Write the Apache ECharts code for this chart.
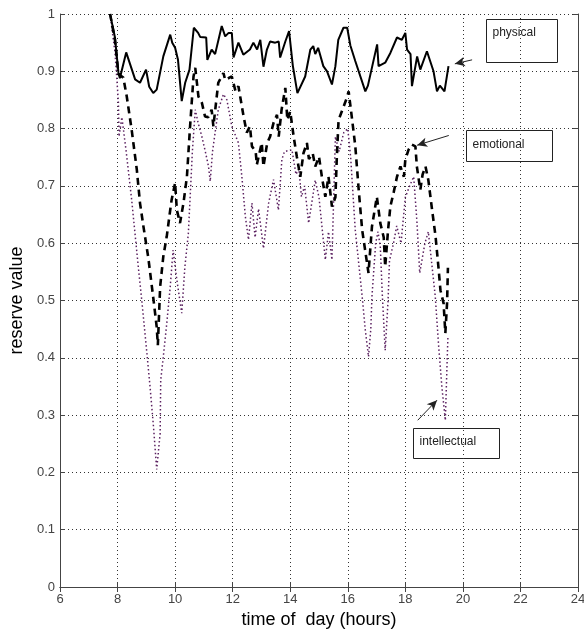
<!DOCTYPE html>
<html>
<head>
<meta charset="utf-8">
<script src="https://cdn.jsdelivr.net/npm/echarts@6/dist/echarts.min.js"></script>
<style>
  html, body { margin: 0; padding: 0; background: #fff; }
  #chart { width: 584px; height: 630px; }
</style>
</head>
<body>
<div id="chart"></div>
<script>
// tick labels
const xTicks = [6, 8, 10, 12, 14, 16, 18, 20, 22, 24];
const yTicks = [0, 0.1, 0.2, 0.3, 0.4, 0.5, 0.6, 0.7, 0.8, 0.9, 1];

// physical reserve (solid)
const physicalHours = [7.74, 7.91, 8.03, 8.08, 8.30, 8.61, 8.78, 8.99, 9.10, 9.24, 9.36, 9.59, 9.83, 9.90, 10.0, 10.1, 10.23, 10.35, 10.5, 10.65, 10.8, 10.87, 11.08, 11.12, 11.27, 11.39, 11.62, 11.74, 11.86, 11.97, 12.03, 12.2, 12.37, 12.6, 12.72, 12.85, 12.96, 13.07, 13.19, 13.3, 13.48, 13.6, 13.65, 13.83, 13.96, 14.09, 14.25, 14.52, 14.70, 14.80, 14.87, 14.97, 15.15, 15.28, 15.45, 15.57, 15.67, 15.85, 15.98, 16.09, 16.26, 16.61, 16.70, 17.02, 17.07, 17.30, 17.48, 17.71, 17.88, 18.0, 18.06, 18.18, 18.23, 18.41, 18.52, 18.75, 18.98, 19.10, 19.2, 19.36, 19.5];
const physicalValues = [1.0, 0.959, 0.898, 0.888, 0.933, 0.886, 0.880, 0.903, 0.873, 0.862, 0.868, 0.926, 0.964, 0.950, 0.941, 0.920, 0.848, 0.880, 0.903, 0.976, 0.967, 0.960, 0.959, 0.920, 0.938, 0.930, 0.979, 0.961, 0.967, 0.967, 0.924, 0.950, 0.929, 0.938, 0.950, 0.938, 0.955, 0.908, 0.938, 0.952, 0.950, 0.952, 0.924, 0.952, 0.970, 0.910, 0.862, 0.891, 0.938, 0.944, 0.930, 0.941, 0.909, 0.900, 0.877, 0.909, 0.955, 0.976, 0.976, 0.945, 0.918, 0.865, 0.875, 0.947, 0.909, 0.915, 0.932, 0.959, 0.955, 0.967, 0.938, 0.930, 0.874, 0.926, 0.903, 0.935, 0.900, 0.865, 0.875, 0.865, 0.909];

// emotional reserve (dashed)
const emotionalHours = [7.74, 7.91, 8.03, 8.2, 8.32, 8.49, 8.67, 8.78, 8.9, 9.07, 9.25, 9.36, 9.40, 9.48, 9.59, 9.71, 9.83, 9.88, 10.0, 10.06, 10.17, 10.29, 10.41, 10.52, 10.64, 10.70, 10.81, 10.93, 11.04, 11.15, 11.27, 11.33, 11.5, 11.68, 11.74, 11.97, 12.1, 12.2, 12.38, 12.49, 12.6, 12.67, 12.8, 12.84, 13.01, 13.07, 13.2, 13.3, 13.42, 13.54, 13.6, 13.7, 13.83, 13.9, 14.0, 14.12, 14.23, 14.35, 14.46, 14.58, 14.65, 14.78, 14.87, 15.0, 15.1, 15.22, 15.33, 15.45, 15.57, 15.62, 15.68, 15.86, 15.97, 16.03, 16.15, 16.26, 16.38, 16.5, 16.72, 16.84, 17.01, 17.13, 17.25, 17.3, 17.4, 17.48, 17.6, 17.71, 17.83, 17.95, 18.0, 18.11, 18.23, 18.35, 18.4, 18.52, 18.6, 18.7, 18.8, 18.93, 19.05, 19.16, 19.22, 19.33, 19.39, 19.45, 19.48];
const emotionalValues = [1.0, 0.955, 0.895, 0.889, 0.856, 0.798, 0.728, 0.670, 0.629, 0.574, 0.501, 0.454, 0.422, 0.524, 0.577, 0.612, 0.658, 0.676, 0.705, 0.658, 0.635, 0.670, 0.716, 0.804, 0.891, 0.906, 0.856, 0.845, 0.821, 0.820, 0.833, 0.804, 0.880, 0.897, 0.885, 0.891, 0.865, 0.874, 0.821, 0.793, 0.804, 0.769, 0.760, 0.737, 0.775, 0.734, 0.775, 0.786, 0.810, 0.824, 0.786, 0.833, 0.871, 0.815, 0.830, 0.786, 0.751, 0.716, 0.757, 0.775, 0.747, 0.757, 0.734, 0.751, 0.716, 0.681, 0.716, 0.664, 0.680, 0.751, 0.815, 0.839, 0.854, 0.865, 0.816, 0.770, 0.693, 0.623, 0.548, 0.629, 0.681, 0.635, 0.610, 0.559, 0.623, 0.664, 0.690, 0.716, 0.734, 0.716, 0.746, 0.763, 0.772, 0.769, 0.734, 0.693, 0.720, 0.734, 0.710, 0.658, 0.612, 0.553, 0.518, 0.495, 0.443, 0.495, 0.557];

// intellectual reserve (dotted)
const intellectualHours = [7.74, 7.91, 7.97, 8.03, 8.05, 8.15, 8.3, 8.49, 8.72, 8.84, 9.01, 9.13, 9.25, 9.36, 9.48, 9.50, 9.59, 9.71, 9.83, 9.93, 10.06, 10.23, 10.34, 10.46, 10.6, 10.7, 10.8, 10.93, 11.05, 11.16, 11.22, 11.3, 11.5, 11.68, 11.8, 11.97, 12.2, 12.32, 12.44, 12.55, 12.67, 12.78, 12.9, 13.07, 13.25, 13.42, 13.59, 13.71, 13.8, 14.06, 14.2, 14.3, 14.39, 14.5, 14.64, 14.87, 15.0, 15.22, 15.33, 15.45, 15.57, 15.7, 15.86, 16.0, 16.1, 16.26, 16.38, 16.5, 16.61, 16.72, 16.8, 16.84, 16.97, 17.05, 17.13, 17.2, 17.3, 17.4, 17.45, 17.59, 17.7, 17.85, 18.0, 18.15, 18.29, 18.4, 18.5, 18.68, 18.8, 19.04, 19.16, 19.27, 19.39, 19.45, 19.48];
const intellectualValues = [1.0, 0.933, 0.891, 0.845, 0.786, 0.820, 0.760, 0.676, 0.559, 0.501, 0.413, 0.349, 0.279, 0.205, 0.268, 0.361, 0.402, 0.460, 0.524, 0.588, 0.536, 0.478, 0.559, 0.617, 0.760, 0.833, 0.810, 0.786, 0.760, 0.734, 0.708, 0.760, 0.833, 0.860, 0.850, 0.804, 0.775, 0.716, 0.647, 0.606, 0.670, 0.610, 0.660, 0.591, 0.670, 0.711, 0.658, 0.746, 0.760, 0.763, 0.720, 0.730, 0.681, 0.700, 0.635, 0.710, 0.680, 0.571, 0.620, 0.571, 0.786, 0.760, 0.793, 0.800, 0.750, 0.623, 0.565, 0.507, 0.448, 0.402, 0.450, 0.507, 0.600, 0.620, 0.594, 0.510, 0.413, 0.500, 0.570, 0.600, 0.630, 0.600, 0.680, 0.700, 0.716, 0.640, 0.548, 0.600, 0.620, 0.507, 0.419, 0.349, 0.291, 0.390, 0.437];

function pairs(xs, ys) {
  return xs.map((x, i) => [x, ys[i]]);
}

const chart = echarts.init(document.getElementById('chart'), null, { renderer: 'canvas' });

const tickFont = { color: '#444', fontSize: 13, fontFamily: 'Liberation Sans, Arial, sans-serif' };
const gridLine = { show: true, lineStyle: { color: '#333', type: [1, 3], width: 1 } };
const frameLine = { show: true, lineStyle: { color: '#444', width: 1 } };
const arrowLine = { color: '#222', type: 'solid', width: 1 };

chart.setOption({
  animation: false,
  backgroundColor: '#fff',
  grid: { left: 60, right: 6, top: 14, bottom: 43, containLabel: false, outerBoundsMode: 'none' },
  xAxis: [
    {
      type: 'value', min: 6, max: 24, interval: 2,
      name: 'time of  day (hours)', nameLocation: 'middle', nameGap: 24,
      nameTextStyle: { color: '#000', fontSize: 18, fontFamily: 'Liberation Sans, Arial, sans-serif' },
      axisLine: frameLine,
      axisTick: { show: true, inside: true, length: 5, lineStyle: { color: '#444' } },
      axisLabel: Object.assign({ margin: 6, formatter: v => String(v) }, tickFont),
      splitLine: gridLine
    },
    {
      type: 'value', min: 6, max: 24, interval: 2, position: 'top',
      axisLine: frameLine,
      axisTick: { show: true, inside: true, length: 5, lineStyle: { color: '#444' } },
      axisLabel: { show: false }, splitLine: { show: false }
    }
  ],
  yAxis: [
    {
      type: 'value', min: 0, max: 1, interval: 0.1,
      name: 'reserve value', nameLocation: 'middle', nameGap: 34, nameRotate: 90,
      nameTextStyle: { color: '#000', fontSize: 18, fontFamily: 'Liberation Sans, Arial, sans-serif' },
      axisLine: frameLine,
      axisTick: { show: true, inside: true, length: 5, lineStyle: { color: '#444' } },
      axisLabel: Object.assign({ margin: 5, formatter: v => String(+v.toFixed(1)) }, tickFont),
      splitLine: gridLine
    },
    {
      type: 'value', min: 0, max: 1, interval: 0.1, position: 'right',
      axisLine: frameLine,
      axisTick: { show: true, inside: true, length: 5, lineStyle: { color: '#444' } },
      axisLabel: { show: false }, splitLine: { show: false }
    }
  ],
  series: [
    {
      name: 'intellectual', type: 'line', showSymbol: false, z: 2,
      data: pairs(intellectualHours, intellectualValues),
      lineStyle: { color: '#5b2160', width: 1.5, type: [1.5, 2.5] },
      markLine: {
        silent: true, symbol: ['none', 'arrow'], symbolSize: [7, 10],
        label: { show: false }, lineStyle: arrowLine,
        data: [[{ coord: [18.43, 0.291] }, { coord: [19.1, 0.326] }]]
      }
    },
    {
      name: 'emotional', type: 'line', showSymbol: false, z: 3,
      data: pairs(emotionalHours, emotionalValues),
      lineStyle: { color: '#000', width: 2.6, type: [7, 5] },
      markLine: {
        silent: true, symbol: ['none', 'arrow'], symbolSize: [7, 10],
        label: { show: false }, lineStyle: arrowLine,
        data: [[{ coord: [19.51, 0.788] }, { coord: [18.41, 0.771] }]]
      }
    },
    {
      name: 'physical', type: 'line', showSymbol: false, z: 4,
      data: pairs(physicalHours, physicalValues),
      lineStyle: { color: '#000', width: 2 },
      markLine: {
        silent: true, symbol: ['none', 'arrow'], symbolSize: [7, 10],
        label: { show: false }, lineStyle: arrowLine,
        data: [[{ coord: [20.32, 0.92] }, { coord: [19.72, 0.913] }]]
      }
    }
  ],
  graphic: [
    {
      type: 'group', left: 486, top: 19,
      children: [
        { type: 'rect', shape: { width: 71, height: 43 }, style: { fill: '#fff', stroke: '#222', lineWidth: 1 } },
        { type: 'text', left: 6, top: 7, style: { text: 'physical', fill: '#222', fontSize: 12, fontFamily: 'Liberation Sans, Arial, sans-serif' } }
      ]
    },
    {
      type: 'group', left: 466, top: 130,
      children: [
        { type: 'rect', shape: { width: 86, height: 31 }, style: { fill: '#fff', stroke: '#222', lineWidth: 1 } },
        { type: 'text', left: 6, top: 8, style: { text: 'emotional', fill: '#222', fontSize: 12, fontFamily: 'Liberation Sans, Arial, sans-serif' } }
      ]
    },
    {
      type: 'group', left: 413, top: 428,
      children: [
        { type: 'rect', shape: { width: 86, height: 30 }, style: { fill: '#fff', stroke: '#222', lineWidth: 1 } },
        { type: 'text', left: 6, top: 7, style: { text: 'intellectual', fill: '#222', fontSize: 12, fontFamily: 'Liberation Sans, Arial, sans-serif' } }
      ]
    }
  ]
});
</script>
</body>
</html>
